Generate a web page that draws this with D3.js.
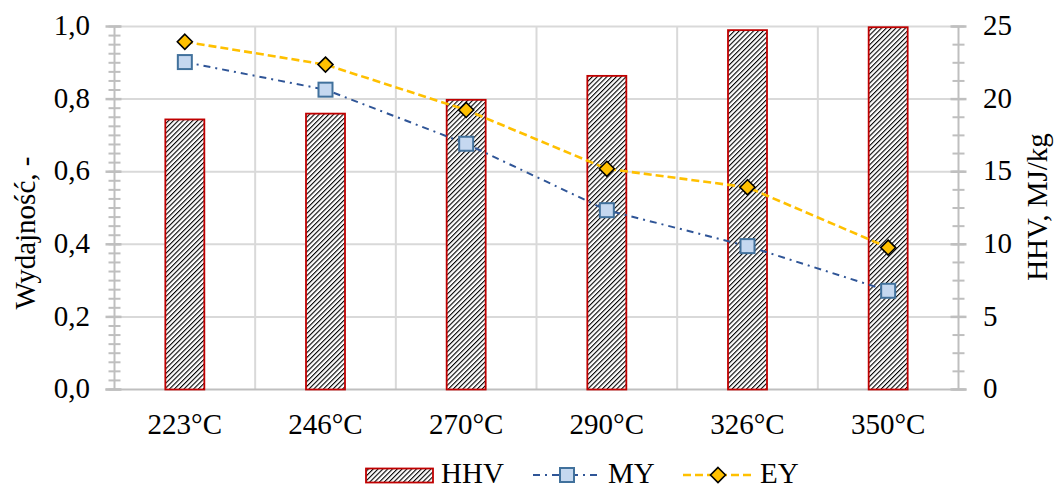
<!DOCTYPE html>
<html>
<head>
<meta charset="utf-8">
<script src="https://cdn.jsdelivr.net/npm/d3@7"></script>
<style>
  html, body { margin: 0; padding: 0; background: #fff; }
  svg { display: block; }
  text { font-family: "Liberation Serif", "Times New Roman", serif; fill: #000; }
</style>
</head>
<body>
<svg id="chart" width="1057" height="488"></svg>
<script>
// Process temperatures
const categories = ["223°C", "246°C", "270°C", "290°C", "326°C", "350°C"];
// Higher heating value, MJ/kg (right axis)
const hhv = [18.6, 19.0, 19.95, 21.6, 24.75, 24.95];
// Mass yield (left axis)
const my = [0.902, 0.826, 0.677, 0.494, 0.395, 0.272];
// Energy yield (left axis)
const ey = [0.958, 0.895, 0.770, 0.608, 0.557, 0.391];
// Axis ticks
const leftTicks = [0, 0.2, 0.4, 0.6, 0.8, 1.0];
const rightTicks = [0, 5, 10, 15, 20, 25];

const svg = d3.select("#chart");
const plot = { left: 114.5, right: 958.5, top: 26.5, bottom: 389.5 };

const x = d3.scaleBand().domain(categories).range([plot.left, plot.right]).padding(0);
const yL = d3.scaleLinear().domain([0, 1]).range([plot.bottom, plot.top]);
const yR = d3.scaleLinear().domain([0, 25]).range([plot.bottom, plot.top]);

const gridColor = "#d9d9d9";
const axisColor = "#bfbfbf";
const fmt = d => d3.format(".1f")(d).replace(".", ",");

// Hatch pattern for the HHV bars
const defs = svg.append("defs");
const pat = defs.append("pattern")
  .attr("id", "hatch")
  .attr("patternUnits", "userSpaceOnUse")
  .attr("width", 3.4).attr("height", 3.4)
  .attr("patternTransform", "rotate(45)");
pat.append("rect").attr("width", 3.4).attr("height", 3.4).attr("fill", "#fff");
pat.append("line").attr("x1", 0).attr("y1", 0).attr("x2", 0).attr("y2", 3.4)
  .attr("stroke", "#000").attr("stroke-width", 2.2);

// Horizontal gridlines
svg.append("g").selectAll("line").data(leftTicks.slice(1)).join("line")
  .attr("x1", plot.left).attr("x2", plot.right)
  .attr("y1", d => yL(d)).attr("y2", d => yL(d))
  .attr("stroke", gridColor).attr("stroke-width", 2);

// Vertical category separators
const bounds = categories.slice(1).map(c => x(c));
svg.append("g").selectAll("line").data(bounds).join("line")
  .attr("x1", d => d).attr("x2", d => d)
  .attr("y1", plot.top).attr("y2", plot.bottom)
  .attr("stroke", gridColor).attr("stroke-width", 2);

// Left axis with minor ticks
const leftAxis = svg.append("g");
leftAxis.append("line").attr("x1", plot.left).attr("x2", plot.left)
  .attr("y1", plot.top).attr("y2", plot.bottom).attr("stroke", axisColor).attr("stroke-width", 2);
const leftMinor = d3.range(0, 41).map(i => i * 0.025);
leftAxis.selectAll("line.minor").data(leftMinor).join("line").attr("class", "minor")
  .attr("x1", plot.left - 6).attr("x2", plot.left + 6)
  .attr("y1", d => yL(d)).attr("y2", d => yL(d))
  .attr("stroke", axisColor).attr("stroke-width", 2);
leftAxis.selectAll("line.major").data(leftTicks).join("line").attr("class", "major")
  .attr("x1", plot.left - 9).attr("x2", plot.left + 7)
  .attr("y1", d => yL(d)).attr("y2", d => yL(d))
  .attr("stroke", axisColor).attr("stroke-width", 2.5);
leftAxis.selectAll("text").data(leftTicks).join("text")
  .attr("x", 90).attr("y", d => yL(d)).attr("dy", "0.3em")
  .attr("text-anchor", "end").attr("font-size", 29)
  .text(fmt);

// Right axis with minor ticks
const rightAxis = svg.append("g");
rightAxis.append("line").attr("x1", plot.right).attr("x2", plot.right)
  .attr("y1", plot.top).attr("y2", plot.bottom).attr("stroke", axisColor).attr("stroke-width", 2);
const rightMinor = d3.range(0, 21).map(i => i * 1.25);
rightAxis.selectAll("line.minor").data(rightMinor).join("line").attr("class", "minor")
  .attr("x1", plot.right - 6).attr("x2", plot.right + 6)
  .attr("y1", d => yR(d)).attr("y2", d => yR(d))
  .attr("stroke", axisColor).attr("stroke-width", 2);
rightAxis.selectAll("line.major").data(rightTicks).join("line").attr("class", "major")
  .attr("x1", plot.right - 8).attr("x2", plot.right + 8)
  .attr("y1", d => yR(d)).attr("y2", d => yR(d))
  .attr("stroke", axisColor).attr("stroke-width", 2.5);
rightAxis.selectAll("text").data(rightTicks).join("text")
  .attr("x", 983).attr("y", d => yR(d)).attr("dy", "0.3em")
  .attr("text-anchor", "start").attr("font-size", 29)
  .text(d => d);

// Bottom axis
svg.append("line").attr("x1", plot.left - 9).attr("x2", plot.right + 8)
  .attr("y1", plot.bottom).attr("y2", plot.bottom)
  .attr("stroke", axisColor).attr("stroke-width", 2);
svg.append("g").selectAll("text").data(categories).join("text")
  .attr("x", d => x(d) + x.bandwidth() / 2).attr("y", 434)
  .attr("text-anchor", "middle").attr("font-size", 29)
  .text(d => d);

// Axis titles
svg.append("text")
  .attr("transform", "translate(35,233) rotate(-90)")
  .attr("text-anchor", "middle").attr("font-size", 29)
  .text("Wydajność, -");
svg.append("text")
  .attr("transform", "translate(1047,207) rotate(-90)")
  .attr("text-anchor", "middle").attr("font-size", 29)
  .text("HHV, MJ/kg");

// HHV bars
const barW = 39;
svg.append("g").selectAll("rect").data(hhv).join("rect")
  .attr("x", (d, i) => x(categories[i]) + x.bandwidth() / 2 - barW / 2)
  .attr("y", d => yR(d))
  .attr("width", barW)
  .attr("height", d => yR(0) - yR(d))
  .attr("fill", "url(#hatch)")
  .attr("stroke", "#c00000").attr("stroke-width", 1.8);

const cx = (d, i) => x(categories[i]) + x.bandwidth() / 2;

// MY series: dash-dot line with square markers
const myColor = "#2f5597";
svg.append("path").datum(my)
  .attr("d", d3.line().x(cx).y(d => yL(d)))
  .attr("fill", "none").attr("stroke", myColor).attr("stroke-width", 2)
  .attr("stroke-dasharray", "7 5 2 5");
const sq = 14;
svg.append("g").selectAll("rect").data(my).join("rect")
  .attr("x", (d, i) => cx(d, i) - sq / 2).attr("y", d => yL(d) - sq / 2)
  .attr("width", sq).attr("height", sq)
  .attr("fill", "#c5d8f0").attr("stroke", "#41719c").attr("stroke-width", 2);

// EY series: dashed line with diamond markers
const eyColor = "#ffc000";
svg.append("path").datum(ey)
  .attr("d", d3.line().x(cx).y(d => yL(d)))
  .attr("fill", "none").attr("stroke", eyColor).attr("stroke-width", 2.6)
  .attr("stroke-dasharray", "8 4");
const dm = 7.5;
const diamond = `M0,${-dm}L${dm},0L0,${dm}L${-dm},0Z`;
svg.append("g").selectAll("path").data(ey).join("path")
  .attr("transform", (d, i) => `translate(${cx(d, i)},${yL(d)})`)
  .attr("d", diamond)
  .attr("fill", eyColor).attr("stroke", "#000").attr("stroke-width", 1.6);

// Legend
const lg = svg.append("g");
const ly = 475;
const tb = 483; // legend text baseline
lg.append("rect").attr("x", 366).attr("y", ly - 6.5).attr("width", 67).attr("height", 14)
  .attr("fill", "url(#hatch)").attr("stroke", "#c00000").attr("stroke-width", 1.8);
lg.append("text").attr("x", 441).attr("y", tb).attr("font-size", 29).text("HHV");

lg.append("line").attr("x1", 533).attr("x2", 601).attr("y1", ly).attr("y2", ly)
  .attr("stroke", myColor).attr("stroke-width", 2).attr("stroke-dasharray", "7 5 2 5");
lg.append("rect").attr("x", 567 - sq / 2).attr("y", ly - sq / 2).attr("width", sq).attr("height", sq)
  .attr("fill", "#c5d8f0").attr("stroke", "#41719c").attr("stroke-width", 2);
lg.append("text").attr("x", 608).attr("y", tb).attr("font-size", 29).text("MY");

lg.append("line").attr("x1", 683).attr("x2", 753).attr("y1", ly).attr("y2", ly)
  .attr("stroke", eyColor).attr("stroke-width", 2.6).attr("stroke-dasharray", "8 4");
lg.append("path").attr("transform", `translate(718,${ly})`).attr("d", diamond)
  .attr("fill", eyColor).attr("stroke", "#000").attr("stroke-width", 1.6);
lg.append("text").attr("x", 760).attr("y", tb).attr("font-size", 29).text("EY");
</script>
</body>
</html>
